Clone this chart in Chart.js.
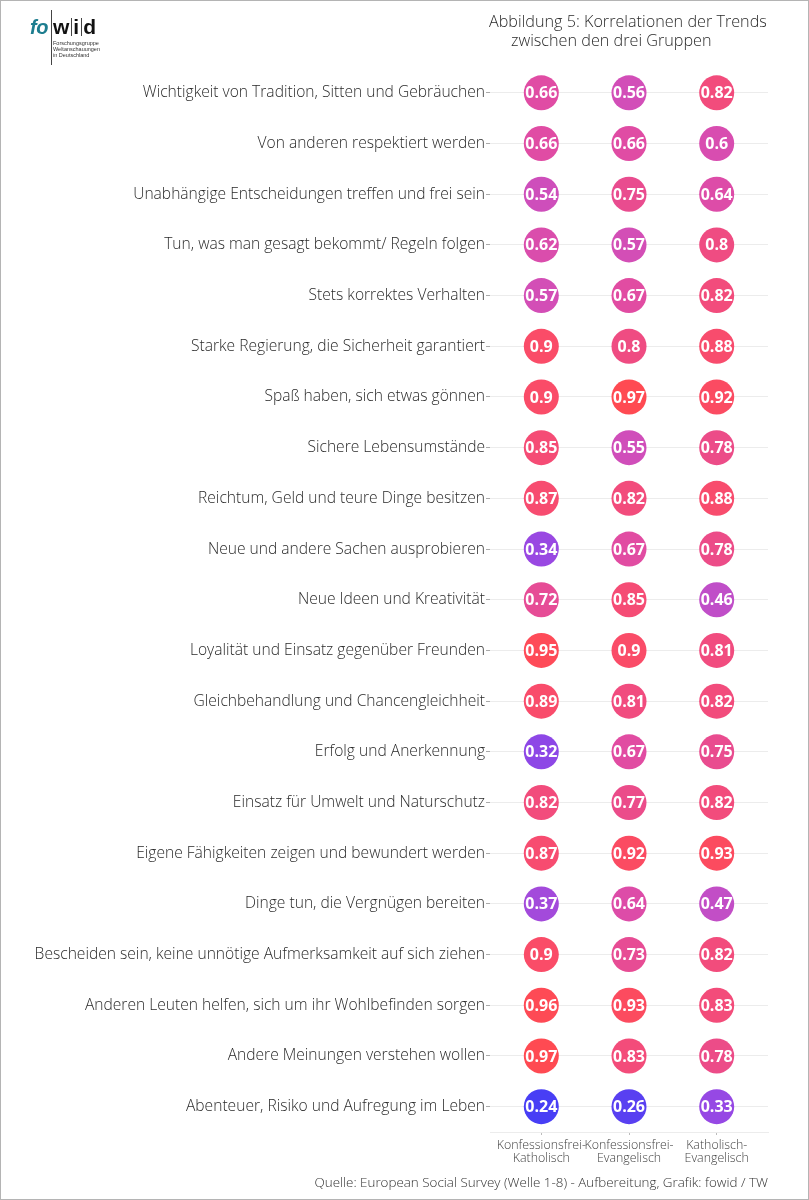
<!DOCTYPE html>
<html>
<head>
<meta charset="utf-8">
<script src="https://cdn.jsdelivr.net/npm/chart.js@4.4.0/dist/chart.umd.min.js"></script>
<style>
  html, body { margin: 0; padding: 0; background: #fff; }
  #wrap { position: relative; width: 809px; height: 1200px; overflow: hidden; font-family: "Open Sans", sans-serif; color: #333; }
  #frame { position: absolute; left: 0; top: 0; width: 809px; height: 1200px; box-sizing: border-box; border: 1px solid #b4b4b4; pointer-events: none; }
  canvas { position: absolute; left: 0; top: 0; }
  .title { position: absolute; font-size: 16.2px; font-weight: 300; line-height: 19px; white-space: nowrap; color: #2a2a2a; }
  .source { position: absolute; right: 41px; top: 1173px; font-size: 13.4px; font-weight: 300; color: #333; white-space: nowrap; }
  .logo { position: absolute; left: 30px; top: 10px; font-family: "Liberation Sans", Arial, sans-serif; }
  .logo .fo { position: absolute; left: 0; top: 6px; font-size: 20px; font-weight: bold; font-style: italic; color: #1d7d8f; letter-spacing: -0.5px; }
  .logo .wid { position: absolute; left: 23px; top: 5px; font-size: 21px; font-weight: bold; color: #111; letter-spacing: 4px; }
  .logo .bar { position: absolute; background: #444; width: 1px; }
  .logo .small { position: absolute; left: 23px; top: 30px; font-size: 5.5px; line-height: 6.2px; color: #333; white-space: nowrap; }
</style>
</head>
<body>
<div id="wrap">
  <canvas id="chart" width="809" height="1200"></canvas>
  <div class="logo">
    <span class="fo">fo</span>
    <span class="wid">wid</span>
    <div class="bar" style="left:21px;top:0;height:55px"></div>
    <div class="bar" style="left:41px;top:8px;height:18px"></div>
    <div class="bar" style="left:51px;top:8px;height:18px"></div>
    <div class="small">Forschungsgruppe<br>Weltanschauungen<br>in Deutschland</div>
  </div>
  <div class="title" style="left:489px;top:12px">Abbildung 5: Korrelationen der Trends</div>
  <div class="title" style="left:511px;top:31px">zwischen den drei Gruppen</div>
  <div class="source">Quelle: European Social Survey (Welle 1-8) - Aufbereitung, Grafik: fowid / TW</div>
  <div id="frame"></div>
</div>
<script>
// Werte (von oben nach unten)
const categories = [
  'Wichtigkeit von Tradition, Sitten und Gebräuchen',
  'Von anderen respektiert werden',
  'Unabhängige Entscheidungen treffen und frei sein',
  'Tun, was man gesagt bekommt/ Regeln folgen',
  'Stets korrektes Verhalten',
  'Starke Regierung, die Sicherheit garantiert',
  'Spaß haben, sich etwas gönnen',
  'Sichere Lebensumstände',
  'Reichtum, Geld und teure Dinge besitzen',
  'Neue und andere Sachen ausprobieren',
  'Neue Ideen und Kreativität',
  'Loyalität und Einsatz gegenüber Freunden',
  'Gleichbehandlung und Chancengleichheit',
  'Erfolg und Anerkennung',
  'Einsatz für Umwelt und Naturschutz',
  'Eigene Fähigkeiten zeigen und bewundert werden',
  'Dinge tun, die Vergnügen bereiten',
  'Bescheiden sein, keine unnötige Aufmerksamkeit auf sich ziehen',
  'Anderen Leuten helfen, sich um ihr Wohlbefinden sorgen',
  'Andere Meinungen verstehen wollen',
  'Abenteuer, Risiko und Aufregung im Leben'
];
const groups = [
  ['Konfessionsfrei-', 'Katholisch'],
  ['Konfessionsfrei-', 'Evangelisch'],
  ['Katholisch-', 'Evangelisch']
];
const konfreiKath  = [0.66, 0.66, 0.54, 0.62, 0.57, 0.9, 0.9, 0.85, 0.87, 0.34, 0.72, 0.95, 0.89, 0.32, 0.82, 0.87, 0.37, 0.9, 0.96, 0.97, 0.24];
const konfreiEvang = [0.56, 0.66, 0.75, 0.57, 0.67, 0.8, 0.97, 0.55, 0.82, 0.67, 0.85, 0.9, 0.81, 0.67, 0.77, 0.92, 0.64, 0.73, 0.93, 0.83, 0.26];
const kathEvang    = [0.82, 0.6, 0.64, 0.8, 0.82, 0.88, 0.92, 0.78, 0.88, 0.78, 0.46, 0.81, 0.82, 0.75, 0.82, 0.93, 0.47, 0.82, 0.83, 0.78, 0.33];

// Farbskala blau -> violett -> pink -> rot
const colorStops = [
  [0.24, [72, 62, 245]],
  [0.33, [150, 72, 228]],
  [0.46, [192, 78, 200]],
  [0.56, [210, 78, 184]],
  [0.66, [224, 76, 164]],
  [0.78, [236, 76, 136]],
  [0.82, [242, 76, 124]],
  [0.90, [250, 76, 104]],
  [0.97, [255, 74, 82]]
];
function colorFor(v) {
  if (v <= colorStops[0][0]) return 'rgb(' + colorStops[0][1].join(',') + ')';
  for (let i = 1; i < colorStops.length; i++) {
    if (v <= colorStops[i][0]) {
      const [a, ca] = colorStops[i - 1], [b, cb] = colorStops[i];
      const t = (v - a) / (b - a);
      const c = ca.map((x, k) => Math.round(x + (cb[k] - x) * t));
      return 'rgb(' + c.join(',') + ')';
    }
  }
  return 'rgb(' + colorStops[colorStops.length - 1][1].join(',') + ')';
}

const series = [konfreiKath, konfreiEvang, kathEvang];
const datasets = series.map((vals, g) => ({
  data: vals.map((v, i) => ({ x: g, y: i, v: v })),
  backgroundColor: ctx => colorFor(ctx.raw ? ctx.raw.v : 0.5),
  borderWidth: 0,
  pointRadius: 17.5,
  pointHoverRadius: 17.5
}));

const valueLabels = {
  id: 'valueLabels',
  afterDatasetsDraw(chart) {
    const ctx = chart.ctx;
    ctx.save();
    ctx.fillStyle = '#fff';
    ctx.font = 'bold 16px "Open Sans", sans-serif';
    ctx.textAlign = 'center';
    ctx.textBaseline = 'middle';
    chart.data.datasets.forEach((ds, di) => {
      chart.getDatasetMeta(di).data.forEach((pt, i) => {
        ctx.fillText(String(ds.data[i].v), pt.x, pt.y + 1);
      });
    });
    ctx.restore();
  }
};

new Chart(document.getElementById('chart'), {
  type: 'scatter',
  data: { datasets: datasets },
  plugins: [valueLabels],
  options: {
    responsive: false,
    animation: false,
    layout: { padding: { top: 67.5, right: 41, left: 0, bottom: 0 } },
    plugins: { legend: { display: false }, tooltip: { enabled: false } },
    scales: {
      x: {
        type: 'linear',
        min: -0.585,
        max: 2.585,
        afterBuildTicks: s => { s.ticks = groups.map((_, i) => ({ value: i })); },
        afterFit: s => { s.height = 68; },
        ticks: {
          callback: v => groups[v],
          color: '#444',
          font: { family: '"Open Sans", sans-serif', size: 12.4, weight: '300', lineHeight: 1.05 },
          padding: 4,
          maxRotation: 0,
          autoSkip: false
        },
        grid: { drawOnChartArea: false, drawTicks: true, tickLength: 3, tickColor: '#bbb' },
        border: { display: true, color: '#ececec' }
      },
      y: {
        type: 'linear',
        reverse: true,
        min: -0.5,
        max: 20.5,
        afterBuildTicks: s => { s.ticks = categories.map((_, i) => ({ value: i })); },
        afterFit: s => { s.width = 490; },
        ticks: {
          callback: v => categories[v],
          color: '#2a2a2a',
          font: { family: '"Open Sans", sans-serif', size: 15.6, weight: '300' },
          padding: 1,
          autoSkip: false
        },
        grid: { color: '#ececec', tickLength: 4, tickColor: '#aaa' },
        border: { display: false }
      }
    }
  }
});
</script>
</body>
</html>
